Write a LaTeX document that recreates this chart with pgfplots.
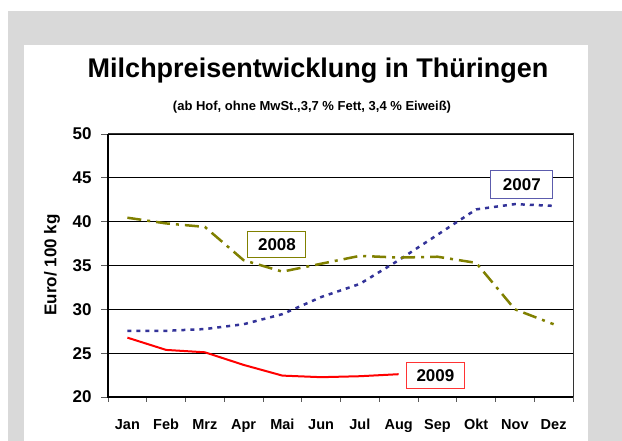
\documentclass[border=0pt]{standalone}
\usepackage{fontspec}
\setmainfont{Liberation Sans}
\usepackage{pgfplots}
\pgfplotsset{compat=1.18}
\definecolor{bg}{RGB}{217,217,217}
\definecolor{c07}{RGB}{51,51,153}
\definecolor{c08}{RGB}{128,128,0}
\definecolor{c09}{RGB}{255,0,0}
\begin{document}
\begin{tikzpicture}[x=1bp,y=1bp]
\useasboundingbox (0,0) rectangle (622,441);
\fill[white] (0,0) rectangle (622,441);
\fill[bg] (8,0) rectangle (622,430);
\fill[white] (24,0) rectangle (588,396);
\node[font=\fontsize{27bp}{30bp}\selectfont\bfseries, anchor=base] at (318,441-78) {Milchpreisentwicklung in Thüringen};
\node[font=\fontsize{13bp}{15bp}\selectfont\bfseries, anchor=base] at (312,441-111) {(ab Hof, ohne MwSt.,3,7 \% Fett, 3,4 \% Eiweiß)};
\node[font=\fontsize{17bp}{19bp}\selectfont\bfseries, rotate=90, anchor=center] at (52,441-265) {Euro/ 100 kg};
\begin{axis}[at={(108bp,44bp)}, anchor=south west, scale only axis,
  width=465bp, height=263bp,
  xmin=-0.5, xmax=11.5, ymin=20, ymax=50,
  ytick={20,25,...,50},
  xtick={0,...,11},
  xticklabels={Jan,Feb,Mrz,Apr,Mai,Jun,Jul,Aug,Sep,Okt,Nov,Dez},
  minor xtick={-0.5,0.5,...,11.5},
  major x tick style={draw=none},
  xtick pos=bottom, ytick pos=left,
  tick align=outside,
  major tick length=7bp, minor tick length=5bp,
  tick style={draw=gray!70!black, line width=0.8bp},
  ymajorgrids, grid style={black, line width=0.7bp},
  axis line style={draw=gray!40!black, line width=1bp},
  /pgf/number format/assume math mode=true,
  tick label style={font=\fontsize{14.5bp}{17bp}\selectfont\bfseries},
  yticklabel style={font=\fontsize{17bp}{19bp}\selectfont\bfseries, anchor=east, xshift=-6bp},
  xticklabel style={anchor=base, yshift=-26bp},
  clip=false,
]
\addplot[c07, line width=2.5bp, dash pattern=on 4bp off 5bp] coordinates {
 (0,27.55) (1,27.55) (2,27.75) (3,28.3) (4,29.45) (5,31.4) (6,32.9) (7,35.6) (8,38.5) (9,41.4) (10,42.0) (11,41.8)};
\addplot[c08, line width=2.5bp, dash pattern=on 14bp off 6bp on 3bp off 6bp] coordinates {
 (0,40.45) (1,39.8) (2,39.4) (3,35.6) (4,34.3) (5,35.2) (6,36.1) (7,35.9) (8,36.0) (9,35.3) (10,30.0) (11,28.3)};
\addplot[c09, line width=2bp] coordinates {
 (0,26.77) (1,25.37) (2,25.1) (3,23.66) (4,22.44) (5,22.26) (6,22.37) (7,22.6)};
\draw[black, line width=2bp] (rel axis cs:0,1) -- (rel axis cs:0,0) -- (rel axis cs:1,0);
\node[draw=c07!80, fill=white, line width=1bp, font=\fontsize{17bp}{19bp}\selectfont\bfseries, minimum width=62bp, minimum height=28bp, inner sep=0pt] at (axis cs:10.18,44.24) {2007};
\node[draw=c08, fill=white, line width=1bp, font=\fontsize{17bp}{19bp}\selectfont\bfseries, minimum width=58bp, minimum height=26bp, inner sep=0pt] at (axis cs:3.86,37.38) {2008};
\node[draw=c09!80, fill=white, line width=1bp, font=\fontsize{17bp}{19bp}\selectfont\bfseries, minimum width=58bp, minimum height=26bp, inner sep=0pt] at (axis cs:7.95,22.43) {2009};
\end{axis}
\end{tikzpicture}
\end{document}
